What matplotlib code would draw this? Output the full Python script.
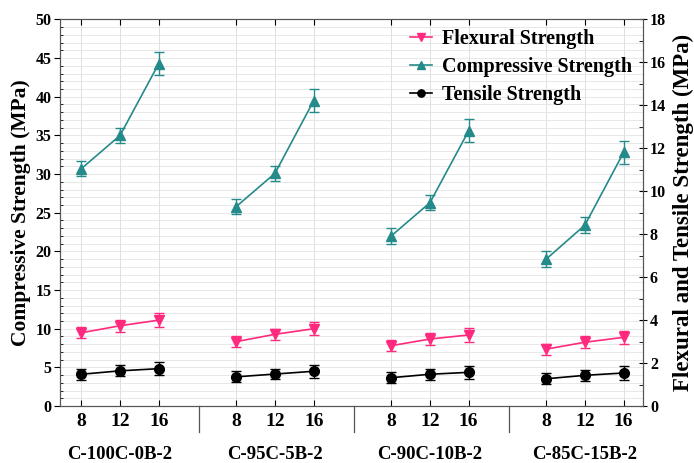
import matplotlib
matplotlib.use("Agg")
import matplotlib.pyplot as plt
import matplotlib.transforms as mtransforms
from matplotlib.ticker import MultipleLocator, FixedLocator

# Specimen groups and curing ages
groups = ["C-100C-0B-2", "C-95C-5B-2", "C-90C-10B-2", "C-85C-15B-2"]
ages = [8, 12, 16]

# Compressive strength (MPa, left axis)
comp = [[30.7, 35.0, 44.3],
        [25.8, 30.1, 39.5],
        [22.0, 26.3, 35.6],
        [19.0, 23.4, 32.8]]
comp_err = [[1.0, 1.0, 1.5],
            [1.0, 1.0, 1.5],
            [1.0, 1.0, 1.5],
            [1.0, 1.0, 1.5]]

# Flexural strength (MPa, right axis)
flex = [[3.41, 3.74, 4.00],
        [3.00, 3.34, 3.60],
        [2.81, 3.12, 3.31],
        [2.65, 2.97, 3.20]]
flex_err = [[0.25, 0.27, 0.31],
            [0.25, 0.27, 0.31],
            [0.25, 0.27, 0.31],
            [0.25, 0.27, 0.31]]

# Tensile strength (MPa, right axis)
tens = [[1.48, 1.64, 1.74],
        [1.36, 1.49, 1.62],
        [1.32, 1.48, 1.57],
        [1.27, 1.43, 1.54]]
tens_err = [[0.25, 0.25, 0.31],
            [0.25, 0.25, 0.31],
            [0.25, 0.25, 0.31],
            [0.25, 0.25, 0.31]]

plt.rcParams["font.family"] = ["Liberation Serif", "DejaVu Serif"]
plt.rcParams["font.weight"] = "bold"

C_FLEX = "#FF2A7E"
C_COMP = "#248A8A"
C_TENS = "#000000"

fig = plt.figure(figsize=(6.94, 4.63), dpi=100)
ax = fig.add_axes([0.0865, 0.123, 0.8400, 0.835])
ax2 = ax.twinx()

group_step = 4
positions = []
for g in range(len(groups)):
    xs = [g * group_step + i for i in range(len(ages))]
    positions.extend(xs)

    ax.errorbar(xs, comp[g], yerr=comp_err[g], fmt="none", ecolor=C_COMP,
                elinewidth=1.0, capsize=3.5, capthick=1.0, zorder=3)
    h_comp, = ax.plot(xs, comp[g], color=C_COMP, lw=1.2, marker="^", ms=7,
                      zorder=4)

    ax2.errorbar(xs, flex[g], yerr=flex_err[g], fmt="none", ecolor=C_FLEX,
                 elinewidth=1.0, capsize=3.5, capthick=1.0, zorder=3)
    h_flex, = ax2.plot(xs, flex[g], color=C_FLEX, lw=1.2, marker="v", ms=7,
                       zorder=4)

    ax2.errorbar(xs, tens[g], yerr=tens_err[g], fmt="none", ecolor=C_TENS,
                 elinewidth=1.0, capsize=3.5, capthick=1.0, zorder=3)
    h_tens, = ax2.plot(xs, tens[g], color=C_TENS, lw=1.2, marker="o", ms=7,
                       zorder=4)

# Axis limits
ax.set_xlim(-0.55, 14.5)
ax.set_ylim(0, 50)
ax2.set_ylim(0, 18)

# Left axis ticks
ax.yaxis.set_major_locator(MultipleLocator(5))
ax.yaxis.set_minor_locator(MultipleLocator(1))
ax.tick_params(axis="y", which="major", direction="out", length=4,
               width=0.8, labelsize=11.5, pad=2)
ax.tick_params(axis="y", which="minor", direction="in", length=2.5, width=0.6)

# Right axis ticks
ax2.yaxis.set_major_locator(MultipleLocator(2))
ax2.yaxis.set_minor_locator(MultipleLocator(1))
ax2.tick_params(axis="y", which="major", direction="inout", length=6,
                width=0.8, labelsize=11.5, pad=2)
ax2.tick_params(axis="y", which="minor", direction="in", length=3, width=0.6)

# Bottom / top ticks at the curing ages
ax.xaxis.set_major_locator(FixedLocator(positions))
ax.set_xticklabels([str(a) for _ in groups for a in ages])
ax.tick_params(axis="x", which="major", direction="in", length=4, width=0.8,
               top=True, labelsize=14, pad=5)
ax.xaxis.set_minor_locator(FixedLocator([]))

# Light grid
ax.grid(True, which="major", axis="x", color="#dedede", lw=0.7)
ax.grid(True, which="both", axis="y", color="#e4e4e4", lw=0.6)
ax.set_axisbelow(True)

for a in (ax, ax2):
    for s in a.spines.values():
        s.set_color("#555555")
        s.set_linewidth(0.8)

ax.set_ylabel("Compressive Strength (MPa)", fontsize=15.5, fontweight="bold",
              labelpad=3)
ax2.set_ylabel("Flexural and Tensile Strength (MPa)", fontsize=16.5,
               fontweight="bold", labelpad=5)

# Group separators and group names below the axis
trans = mtransforms.blended_transform_factory(ax.transData, ax.transAxes)
for g in range(len(groups) - 1):
    xsep = g * group_step + 3.05
    ax.plot([xsep, xsep], [0, -0.068], color="#555555", lw=0.9,
            transform=trans, clip_on=False)
for g, name in enumerate(groups):
    ax.text(g * group_step + 1, -0.125, name, transform=trans, ha="center",
            va="center", fontsize=13.5, fontweight="bold")

leg = ax2.legend([h_flex, h_comp, h_tens],
                 ["Flexural Strength", "Compressive Strength", "Tensile Strength"],
                 loc="upper right", bbox_to_anchor=(1.012, 1.022), frameon=False,
                 prop={"family": "Liberation Serif", "weight": "bold", "size": 14.5},
                 handlelength=1.1, handletextpad=0.5, labelspacing=0.4,
                 markerscale=0.75)

fig.savefig("out.png", dpi=100)
